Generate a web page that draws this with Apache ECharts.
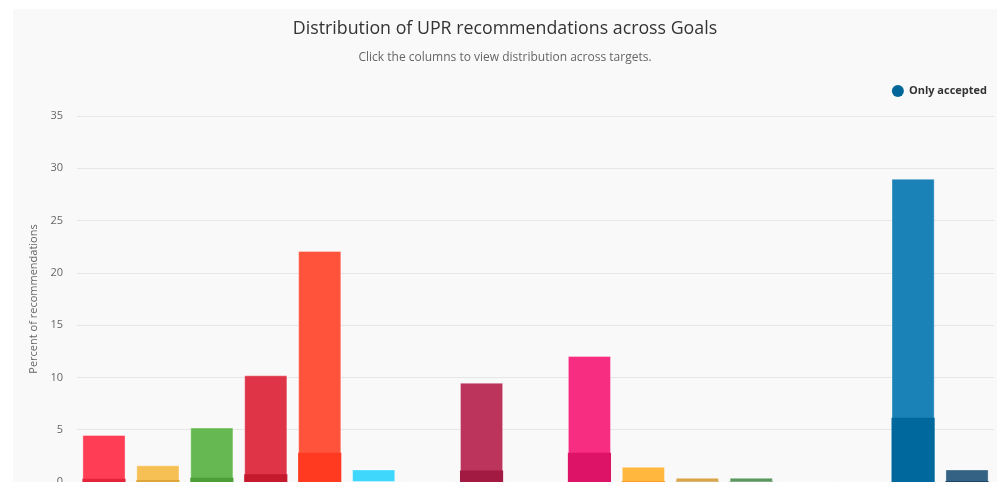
<!DOCTYPE html>
<html>
<head>
<meta charset="utf-8">
<script src="https://cdn.jsdelivr.net/npm/echarts@6/dist/echarts.min.js"></script>
<style>
  html, body { margin: 0; padding: 0; background: #fff; }
  #chart { position: absolute; left: 13px; top: 9px; width: 984px; height: 473px; background: #f9f9f9; }
</style>
</head>
<body>
<div id="chart"></div>
<script>
// SDG goals 1..17
const goals = ["1", "2", "3", "4", "5", "6", "7", "8", "9", "10", "11", "12", "13", "14", "15", "16", "17"];
// percent of all recommendations per goal
const allRecs = [4.5, 1.6, 5.2, 10.2, 22.1, 1.2, 0, 9.5, 0, 12.05, 1.45, 0.4, 0.4, 0, 0, 29.0, 1.2];
// percent of accepted-only recommendations per goal
const acceptedRecs = [0.3, 0.2, 0.4, 0.75, 2.8, 0, 0, 1.1, 0, 2.8, 0.1, 0.05, 0.05, 0, 0, 6.15, 0.1];
const goalColors = ["#E5243B", "#DDA63A", "#4C9F38", "#C5192D", "#FF3A21", "#26BDE2", "#FCC30B", "#A21942",
  "#FD6925", "#DD1367", "#FD9D24", "#BF8B2E", "#3F7E44", "#0A97D9", "#56C02B", "#00689D", "#19486A"];

// lighter shade for the full column
function brighten(hex) {
  const n = parseInt(hex.slice(1), 16);
  const ch = [(n >> 16) & 255, (n >> 8) & 255, n & 255].map((c) => Math.min(255, Math.round(c + 25.5)));
  return "rgb(" + ch.join(",") + ")";
}

const chart = echarts.init(document.getElementById("chart"));
chart.setOption({
  animation: false,
  textStyle: { fontFamily: "Open Sans, sans-serif" },
  title: {
    text: "Distribution of UPR recommendations across Goals",
    subtext: "Click the columns to view distribution across targets.",
    left: "center",
    top: 6,
    padding: [5, 0, 5, 7],
    itemGap: 14,
    textStyle: { fontSize: 17.8, fontWeight: "normal", color: "#333" },
    subtextStyle: { fontSize: 12, color: "#666" },
  },
  legend: {
    right: 5,
    top: 71,
    icon: "circle",
    itemWidth: 12,
    itemHeight: 12,
    data: ["Only accepted"],
    textStyle: { fontSize: 11, fontWeight: "bold", color: "#333" },
  },
  grid: { left: 64, right: 3, top: 107, bottom: 0, containLabel: false, outerBoundsMode: "none" },
  xAxis: {
    type: "category",
    data: goals,
    axisLine: { show: false },
    axisTick: { show: false },
    axisLabel: { show: false },
  },
  yAxis: {
    type: "value",
    min: 0,
    max: 35,
    interval: 5,
    name: "Percent of recommendations",
    nameLocation: "middle",
    nameGap: 37,
    nameTextStyle: { fontSize: 11, color: "#666" },
    axisLabel: { fontSize: 11, color: "#666", margin: 14 },
    splitLine: { lineStyle: { color: "#e6e6e6" } },
  },
  series: [
    {
      name: "All",
      type: "bar",
      barCategoryGap: "20%",
      barGap: "-100%",
      data: allRecs.map((v, i) => ({
        value: v,
        itemStyle: { color: brighten(goalColors[i]), borderColor: "rgba(255,255,255,0.35)", borderWidth: 1 },
      })),
    },
    {
      name: "Only accepted",
      type: "bar",
      barCategoryGap: "20%",
      barGap: "-100%",
      itemStyle: { color: "#006699" },
      data: acceptedRecs.map((v, i) => ({ value: v, itemStyle: { color: goalColors[i] } })),
    },
  ],
});
</script>
</body>
</html>
